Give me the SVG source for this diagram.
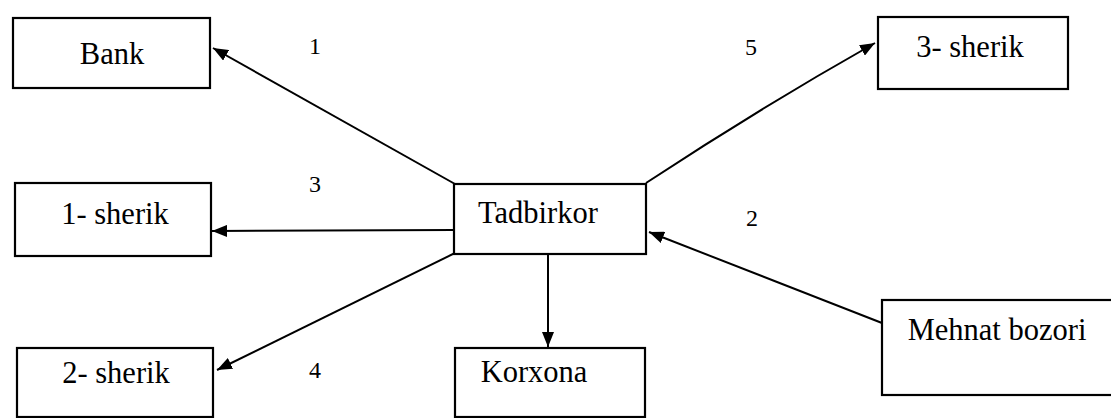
<svg xmlns="http://www.w3.org/2000/svg" width="1111" height="418" viewBox="0 0 1111 418">
<style>
.box{fill:#fff;stroke:#000;stroke-width:2.2}
.t{font-family:"Liberation Serif","Times New Roman",serif;font-size:30.5px;fill:#000;text-anchor:middle}
.n{font-family:"Liberation Serif","Times New Roman",serif;font-size:24px;fill:#000;text-anchor:middle}
.c{stroke:#000;stroke-width:2;fill:none;marker-end:url(#ah)}
</style>
<defs>
<marker id="ah" markerUnits="userSpaceOnUse" markerWidth="16" markerHeight="12" refX="15" refY="6" orient="auto">
<path d="M0,0 L15,6 L0,12 Z" fill="#000"/>
</marker>
</defs>
<rect width="1111" height="418" fill="#fff"/>
<g id="connectors">
<line class="c" x1="455" y1="184" x2="213" y2="48"/>
<path class="c" d="M646,183 Q760,108 875,43"/>
<line class="c" x1="454" y1="230" x2="212" y2="231"/>
<line class="c" x1="882" y1="323" x2="649" y2="232"/>
<line class="c" x1="455" y1="253" x2="217" y2="370"/>
<line class="c" x1="548" y1="254" x2="548" y2="347"/>
</g>
<g id="labels">
<text class="n" x="315" y="54">1</text>
<text class="n" x="751" y="55">5</text>
<text class="n" x="315" y="192">3</text>
<text class="n" x="752" y="226">2</text>
<text class="n" x="315" y="378">4</text>
</g>
<g id="bank"><rect class="box" x="13" y="18" width="197" height="70"/><text class="t" x="112" y="64">Bank</text></g>
<g id="sherik3"><rect class="box" x="878" y="17" width="190" height="72"/><text class="t" x="970" y="57">3- sherik</text></g>
<g id="sherik1"><rect class="box" x="15" y="183" width="196" height="73"/><text class="t" x="115" y="224">1- sherik</text></g>
<g id="tadbirkor"><rect class="box" x="454" y="184" width="192" height="70"/><text class="t" x="538" y="223">Tadbirkor</text></g>
<g id="sherik2"><rect class="box" x="17" y="348" width="196" height="69"/><text class="t" x="116" y="383">2- sherik</text></g>
<g id="korxona"><rect class="box" x="455" y="348" width="190" height="69"/><text class="t" x="534" y="382">Korxona</text></g>
<g id="mehnat"><rect class="box" x="882" y="300" width="232" height="95"/><text class="t" x="997" y="340">Mehnat bozori</text></g>
</svg>
